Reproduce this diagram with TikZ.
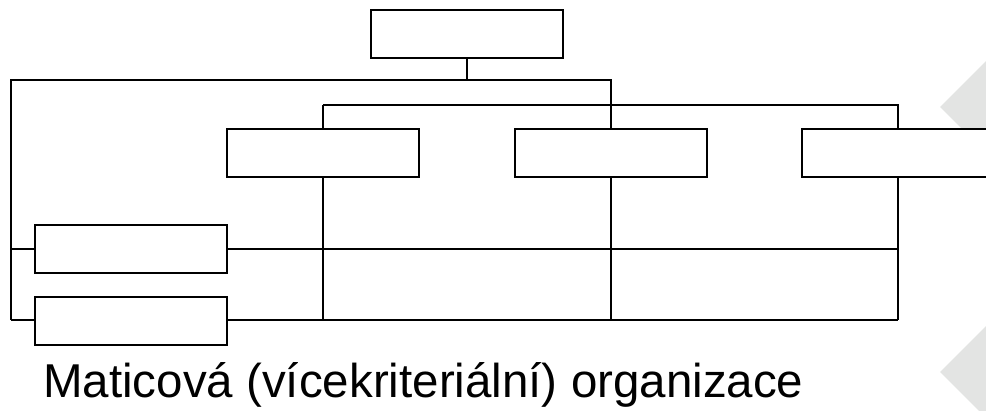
\documentclass[tikz,border=0pt]{standalone}
\usepackage{fontspec}
\setmainfont{Liberation Sans}
\definecolor{slidegray}{HTML}{E3E4E3}
\tikzset{unit/.style={draw,line width=2pt,fill=white,minimum width=192pt,minimum height=48pt,inner sep=0pt},
    link/.style={line width=2pt}
}

\begin{document}
\begin{tikzpicture}[x=1pt,y=-1pt]
      \useasboundingbox (0,0) rectangle (986,411);
      \clip (0,0) rectangle (986,411);
      % slide decoration
      \fill[slidegray] (940,107) -- (986,61) -- (986,153) -- cycle;
      \fill[slidegray] (940,372) -- (986,326) -- (986,418) -- cycle;
      % junctions
      \coordinate (jtop) at (467,80);
      \coordinate (jleft) at (11,80);
      \coordinate (jmid) at (611,80);
      \coordinate (ja) at (323,105);
      \coordinate (jb) at (898,105);
      \coordinate (ra) at (11,249);
      \coordinate (rb) at (11,320);
      \coordinate (ea) at (898,249);
      \coordinate (eb) at (898,320);
      \coordinate (ca) at (323,320);
      \coordinate (cb) at (611,320);
      % lines
      \draw[link] (rb) -- (jleft) -- (jmid) -- (cb);
      \draw[link] (ja) -- (jb) -- (eb);
      \draw[link] (ja) -- (ca);
      \draw[link] (ra) -- (ea);
      \draw[link] (rb) -- (eb);
      % boxes
      \node[unit] (head) at (467,34) {};
      \node[unit] (sec1) at (323,153) {};
      \node[unit] (sec2) at (611,153) {};
      \node[unit] (sec3) at (898,153) {};
      \node[unit] (proj1) at (131,249) {};
      \node[unit] (proj2) at (131,321) {};
      \draw[link] (head.south) -- (jtop);
      \node[anchor=base west,inner sep=0pt,font=\fontsize{47.5}{55}\selectfont] (title) at (43,398) {Maticová (vícekriteriální) organizace};
    \end{tikzpicture}
\end{document}
